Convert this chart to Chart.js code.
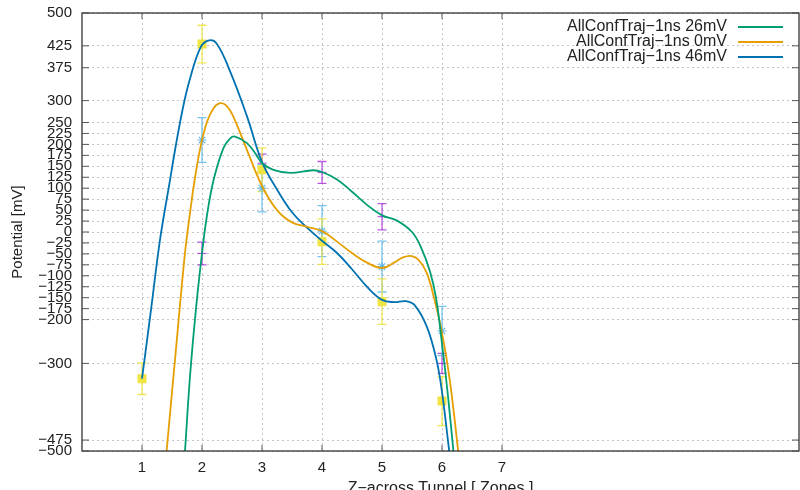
<!DOCTYPE html>
<html>
<head>
<meta charset="utf-8">
<script src="https://cdn.jsdelivr.net/npm/chart.js@4.4.1/dist/chart.umd.min.js"></script>
<style>
  html, body { margin: 0; padding: 0; background: #fff; }
  #wrap { width: 800px; height: 490px; }
</style>
</head>
<body>
<div id="wrap"><canvas id="potential"></canvas></div>
<script>
// axis ticks
const zoneTicks = [1, 2, 3, 4, 5, 6, 7];
const potentialTicks = [500, 425, 375, 300, 250, 225, 200, 175, 150, 125, 100, 75, 50, 25, 0,
  -25, -50, -75, -100, -125, -150, -175, -200, -300, -475, -500];

// measured points (mean +/- error)
const purpleZones = [2, 3, 4, 5, 6];
const purpleMean = [-49, 157, 136, 35, -300];
const purpleErr = [26, 21, 25, 30, 23];

const cyanZones = [2, 3, 4, 5, 6];
const cyanMean = [210, 100, 2, -79, -226];
const cyanErr = [51, 54, 58, 58, 56];

const yellowZones = [1, 2, 3, 4, 5, 6];
const yellowMean = [-335, 429, 142, -22, -159, -386];
const yellowErr = [36, 43, 50, 52, 52, 56];

// smoothed curves
const x26 = [1.717, 1.80, 1.90, 2.00, 2.08, 2.19, 2.355, 2.47, 2.55, 2.75, 2.91, 3.00, 3.19, 3.47, 3.85, 4.00, 4.25, 4.50, 4.75, 5.00, 5.25, 5.50, 5.65, 5.80, 5.90, 6.00, 6.10, 6.19];
const y26 = [-500, -330, -175, -49, 35, 117, 191, 214, 218, 203, 175, 157, 142, 135, 141, 137, 120, 92, 62, 38, 26, 0, -35, -90, -150, -255, -375, -500];

const x0 = [1.41, 1.58, 1.715, 1.80, 1.88, 1.97, 2.08, 2.19, 2.30, 2.41, 2.52, 2.75, 3.00, 3.25, 3.50, 3.75, 4.00, 4.25, 4.50, 4.75, 5.00, 5.20, 5.35, 5.50, 5.62, 5.75, 5.87, 6.00, 6.13, 6.27];
const y0 = [-500, -247, -50, 43, 121, 191, 250, 282, 294, 288, 264, 187, 105, 50, 22, 12, 2, -22, -48, -70, -82, -70, -58, -55, -65, -95, -152, -230, -338, -500];

const x46 = [1.00, 1.15, 1.30, 1.45, 1.58, 1.70, 1.80, 1.97, 2.10, 2.24, 2.47, 2.75, 3.00, 3.25, 3.50, 3.75, 4.00, 4.25, 4.50, 4.75, 5.00, 5.20, 5.40, 5.55, 5.75, 5.91, 6.00, 6.12];
const y46 = [-335, -178, -18, 105, 210, 295, 350, 420, 437, 431, 366, 264, 160, 97, 45, 10, -20, -48, -85, -125, -155, -160, -158, -168, -217, -293, -365, -500];

const pts = (xs, ys) => xs.map((v, i) => ({ x: v, y: ys[i] }));

const errorSeries = [
  { zones: purpleZones, mean: purpleMean, err: purpleErr, color: 'rgba(148, 0, 211, 0.65)' },
  { zones: cyanZones, mean: cyanMean, err: cyanErr, color: 'rgba(86, 180, 233, 0.8)' },
  { zones: yellowZones, mean: yellowMean, err: yellowErr, color: 'rgba(240, 228, 66, 0.9)' }
];

function curve(label, xs, ys, color) {
  return {
    type: 'line',
    label: label,
    data: pts(xs, ys),
    borderColor: color,
    borderWidth: 1.8,
    pointRadius: 0,
    tension: 0.4,
    fill: false,
    inKey: true,
    order: 0
  };
}

function marks(xs, ys, style, radius, color) {
  return {
    type: 'scatter',
    data: pts(xs, ys),
    pointStyle: style,
    pointRadius: radius,
    pointBackgroundColor: color,
    pointBorderColor: color,
    pointBorderWidth: 1.2,
    showLine: false,
    order: 1
  };
}

const gnuplotLook = {
  id: 'gnuplotLook',
  beforeDatasetsDraw(chart) {
    const { ctx, chartArea: ca, scales: { x, y } } = chart;
    ctx.save();
    ctx.beginPath();
    ctx.rect(ca.left, ca.top, ca.right - ca.left, ca.bottom - ca.top);
    ctx.clip();
    ctx.lineWidth = 1.3;
    errorSeries.forEach(s => {
      ctx.strokeStyle = s.color;
      s.zones.forEach((z, i) => {
        const px = x.getPixelForValue(z);
        const top = y.getPixelForValue(s.mean[i] + s.err[i]);
        const bot = y.getPixelForValue(s.mean[i] - s.err[i]);
        ctx.beginPath();
        ctx.moveTo(px, top); ctx.lineTo(px, bot);
        ctx.moveTo(px - 4.5, top); ctx.lineTo(px + 4.5, top);
        ctx.moveTo(px - 4.5, bot); ctx.lineTo(px + 4.5, bot);
        ctx.stroke();
      });
    });
    ctx.restore();
  },
  afterDraw(chart) {
    const { ctx, chartArea: ca, scales: { x, y } } = chart;
    ctx.save();
    ctx.strokeStyle = '#333';
    ctx.lineWidth = 1.3;
    ctx.strokeRect(ca.left, ca.top, ca.right - ca.left, ca.bottom - ca.top);

    // inward tick marks on all four sides
    ctx.beginPath();
    potentialTicks.forEach(v => {
      const py = y.getPixelForValue(v);
      ctx.moveTo(ca.left, py); ctx.lineTo(ca.left + 7, py);
      ctx.moveTo(ca.right, py); ctx.lineTo(ca.right - 7, py);
    });
    zoneTicks.forEach(v => {
      const px = x.getPixelForValue(v);
      ctx.moveTo(px, ca.bottom); ctx.lineTo(px, ca.bottom - 6);
      ctx.moveTo(px, ca.top); ctx.lineTo(px, ca.top + 6);
    });
    ctx.lineWidth = 1;
    ctx.strokeStyle = '#555';
    ctx.stroke();

    // key, top right: text then line sample
    ctx.font = '16px "Liberation Sans", Arial, sans-serif';
    ctx.textAlign = 'right';
    ctx.textBaseline = 'middle';
    chart.data.datasets.filter(d => d.inKey).forEach((d, i) => {
      const ky = ca.top + 14 + i * 15;
      ctx.fillStyle = '#222';
      ctx.fillText(d.label, ca.right - 72, ky);
      ctx.strokeStyle = d.borderColor;
      ctx.lineWidth = 1.8;
      ctx.beginPath();
      ctx.moveTo(ca.right - 61, ky);
      ctx.lineTo(ca.right - 16, ky);
      ctx.stroke();
    });
    ctx.restore();
  }
};

const ctx = document.getElementById('potential');

new Chart(ctx, {
  data: {
    datasets: [
      curve('AllConfTraj\u22121ns 26mV', x26, y26, '#009e73'),
      curve('AllConfTraj\u22121ns 0mV', x0, y0, '#e69f00'),
      curve('AllConfTraj\u22121ns 46mV', x46, y46, '#0072b2'),
      marks(purpleZones, purpleMean, 'line', 4.5, 'rgba(148, 0, 211, 0.65)'),
      marks(cyanZones, cyanMean, 'star', 4.5, 'rgba(86, 180, 233, 0.9)'),
      marks(yellowZones, yellowMean, 'rect', 5.5, '#f0e442')
    ]
  },
  options: {
    responsive: true,
    maintainAspectRatio: false,
    animation: false,
    layout: { autoPadding: false, padding: { top: 13, right: 1, left: 0, bottom: 0 } },
    scales: {
      x: {
        type: 'linear',
        min: 0,
        max: 11.95,
        afterBuildTicks: s => { s.ticks = zoneTicks.map(v => ({ value: v })); },
        afterFit: s => { s.height = 39; },
        grid: { color: '#c4c4c4', lineWidth: 1, drawTicks: false },
        border: { display: false, dash: [2, 3] },
        ticks: {
          color: '#222',
          padding: 8,
          font: { family: '"Liberation Sans", Arial, sans-serif', size: 15 },
          callback: v => String(v)
        },
        title: {
          display: true,
          text: 'Z\u2212across Tunnel [ Zones ]',
          color: '#222',
          font: { family: '"Liberation Sans", Arial, sans-serif', size: 16 },
          padding: { top: 0, bottom: -8 }
        }
      },
      y: {
        type: 'linear',
        min: -500,
        max: 500,
        afterBuildTicks: s => { s.ticks = potentialTicks.map(v => ({ value: v })); },
        afterFit: s => { s.width = 82; },
        grid: { color: '#c4c4c4', lineWidth: 1, drawTicks: true, tickLength: 7, tickColor: 'rgba(0,0,0,0)' },
        border: { display: false, dash: [2, 3] },
        ticks: {
          autoSkip: false,
          color: '#222',
          padding: 3,
          font: { family: '"Liberation Sans", Arial, sans-serif', size: 15 },
          callback: v => v < 0 ? '\u2212' + Math.abs(v) : String(v)
        },
        title: {
          display: true,
          text: 'Potential [mV]',
          color: '#222',
          font: { family: '"Liberation Sans", Arial, sans-serif', size: 15 },
          padding: { top: 9, bottom: 0 }
        }
      }
    },
    plugins: {
      legend: { display: false },
      tooltip: { enabled: false }
    }
  },
  plugins: [gnuplotLook]
});
</script>
</body>
</html>
